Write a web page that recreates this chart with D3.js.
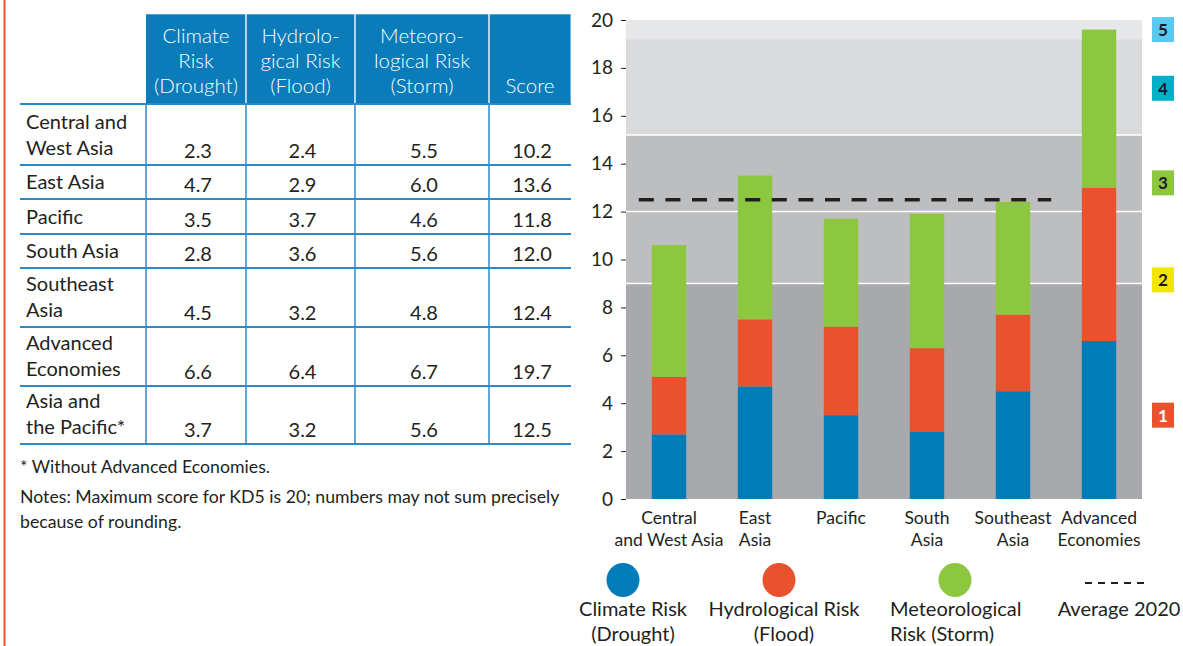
<!DOCTYPE html>
<html><head><meta charset="utf-8">
<script src="https://cdn.jsdelivr.net/npm/d3@7"></script>
<style>body{margin:0;background:#fff}svg{display:block}text{font-family:Lato,"Open Sans",sans-serif}</style>
</head><body><svg id="c" width="1183" height="646"></svg>
<script>
// ---------- table data ----------
const tableHeaders = [["Climate","Risk","(Drought)"],["Hydrolo-","gical Risk","(Flood)"],["Meteoro-","logical Risk","(Storm)"],["Score"]];
const tableRegions = [["Central and","West Asia"],["East Asia"],["Pacific"],["South Asia"],["Southeast","Asia"],["Advanced","Economies"],["Asia and","the Pacific*"]];
const tableDrought = ["2.3","4.7","3.5","2.8","4.5","6.6","3.7"];
const tableFlood   = ["2.4","2.9","3.7","3.6","3.2","6.4","3.2"];
const tableStorm   = ["5.5","6.0","4.6","5.6","4.8","6.7","5.6"];
const tableScore   = ["10.2","13.6","11.8","12.0","12.4","19.7","12.5"];
const footnotes = ["* Without Advanced Economies.","Notes: Maximum score for KD5 is 20; numbers may not sum precisely","because of rounding."];

// ---------- chart data ----------
const categories = ["Central and West Asia","East Asia","Pacific","South Asia","Southeast Asia","Advanced Economies"];
const categoryLabels = [["Central","and West Asia"],["East","Asia"],["Pacific"],["South","Asia"],["Southeast","Asia"],["Advanced","Economies"]];
const drought = [2.7,4.7,3.5,2.8,4.5,6.6];
const flood   = [2.4,2.8,3.7,3.5,3.2,6.4];
const storm   = [5.5,6.0,4.5,5.6,4.7,6.6];
const average2020 = 12.5;
const yTicks = [0,2,4,6,8,10,12,14,16,18,20];
const bandBreaks = [0,9,12,15.2,19.2,20];
const levelLabels = ["1","2","3","4","5"];
const levelAt = [3.5,9.15,13.2,17.15,19.6];
const seriesNames = [["Climate Risk","(Drought)"],["Hydrological Risk","(Flood)"],["Meteorological","Risk (Storm)"]];
const averageName = "Average 2020";

const svg = d3.select("#c");
const ink = "#231f20";
const blueLine = "#2a8ac6";
const colors = ["#007db8","#e9522c","#8dc63f"];

// red margin line
svg.append("line").attr("x1",4.5).attr("x2",4.5).attr("y1",0).attr("y2",646).attr("stroke","#e9522c").attr("stroke-width",2);

// ---------- table ----------
const colX = [146,246,355,489,571];
const tblLeft = 20, headTop = 14, headBottom = 104;
const rowBounds = [104,165,199,234,268,327,386,444];

svg.append("rect").attr("x",colX[0]).attr("y",headTop).attr("width",colX[4]-colX[0]).attr("height",headBottom-headTop).attr("fill","#0a7cba");
svg.append("line").attr("x1",colX[0]).attr("x2",colX[4]).attr("y1",headTop+0.5).attr("y2",headTop+0.5).attr("stroke","#4fa3d6").attr("stroke-width",1);
[1,2,3].forEach(i=>svg.append("line").attr("x1",colX[i]).attr("x2",colX[i]).attr("y1",headTop).attr("y2",headBottom).attr("stroke","#e8f2f8").attr("stroke-width",1.5));
svg.append("line").attr("x1",colX[4]-0.5).attr("x2",colX[4]-0.5).attr("y1",headTop).attr("y2",headBottom).attr("stroke","#6fb4de").attr("stroke-width",1);
tableHeaders.forEach((lines,i)=>{
  const cx=(colX[i]+colX[i+1])/2;
  lines.forEach((t,j)=>{
    svg.append("text").attr("x",cx).attr("y",93-(lines.length-1-j)*25).attr("text-anchor","middle")
      .attr("fill","#fff").attr("font-size",20.5).attr("font-weight",300).text(t);
  });
});
rowBounds.forEach(y=>svg.append("line").attr("x1",tblLeft).attr("x2",colX[4]).attr("y1",y).attr("y2",y).attr("stroke",blueLine).attr("stroke-width",2));
[0,1,2,3].forEach(i=>svg.append("line").attr("x1",colX[i]).attr("x2",colX[i]).attr("y1",headBottom).attr("y2",rowBounds[rowBounds.length-1]).attr("stroke",blueLine).attr("stroke-width",1.5));
const cols=[tableDrought,tableFlood,tableStorm,tableScore];
tableRegions.forEach((lines,r)=>{
  const bot=rowBounds[r+1];
  lines.forEach((t,j)=>{
    svg.append("text").attr("x",26).attr("y",bot-10-(lines.length-1-j)*26).attr("fill",ink).attr("font-size",20).text(t);
  });
  cols.forEach((col,c)=>{
    svg.append("text").attr("x",(colX[c]+colX[c+1])/2+2).attr("y",bot-7).attr("text-anchor","middle").attr("fill",ink).attr("font-size",20).text(col[r]);
  });
});
footnotes.forEach((t,i)=>{
  svg.append("text").attr("x",20).attr("y",[473,503,528][i]).attr("fill",ink).attr("font-size",17.7).text(t);
});

// ---------- chart ----------
const plotL=626, plotR=1142, plotT=20, plotB=499;
const y=d3.scaleLinear().domain([0,20]).range([plotB,plotT]);
const x=d3.scaleBand().domain(categories).range([plotL,plotR]).paddingInner(0.6).paddingOuter(0.3);
const bandColors=["#a7a9ac","#bcbec0","#bcbec0","#d9dadc","#e6e7e8"];
const g=svg.append("g");
bandBreaks.slice(0,-1).forEach((b,i)=>{
  g.append("rect").attr("x",plotL).attr("width",plotR-plotL).attr("y",y(bandBreaks[i+1])).attr("height",y(b)-y(bandBreaks[i+1])).attr("fill",bandColors[i]);
});
[9,12,15.2].forEach(v=>g.append("line").attr("x1",plotL).attr("x2",plotR).attr("y1",y(v)).attr("y2",y(v)).attr("stroke","#fff").attr("stroke-width",1.5));

// stacked bars
const rows=categories.map((c,i)=>({cat:c,drought:drought[i],flood:flood[i],storm:storm[i]}));
const stack=d3.stack().keys(["drought","flood","storm"])(rows);
stack.forEach((s,k)=>{
  g.selectAll(null).data(s).join("rect")
    .attr("x",d=>x(d.data.cat)).attr("width",x.bandwidth())
    .attr("y",d=>y(d[1])).attr("height",d=>y(d[0])-y(d[1])).attr("fill",colors[k]);
});

// average line
g.append("line").attr("x1",x(categories[0])-13).attr("x2",x(categories[4])+x.bandwidth()+21)
  .attr("y1",y(average2020)).attr("y2",y(average2020)).attr("stroke","#231f20").attr("stroke-width",3.5).attr("stroke-dasharray","15,11.6");

// y axis
const ax=svg.append("g").attr("transform",`translate(${plotL},0)`).call(d3.axisLeft(y).tickValues(yTicks).tickSize(5).tickPadding(8));
ax.select(".domain").remove();
ax.selectAll("line").attr("stroke",ink);
ax.selectAll("text").attr("fill",ink).attr("font-size",19).attr("font-family","Lato,sans-serif");

// x labels
categoryLabels.forEach((lines,i)=>{
  const cx=x(categories[i])+x.bandwidth()/2;
  lines.forEach((t,j)=>svg.append("text").attr("x",cx).attr("y",524+j*22).attr("text-anchor","middle").attr("fill",ink).attr("font-size",17.5).text(t));
});

// level badges
const badgeColors=["#e9522c","#f2e600","#8dc63f","#00b0c8","#5bc8ef"];
levelLabels.forEach((l,i)=>{
  const cy=y(levelAt[i]);
  svg.append("rect").attr("x",1152).attr("y",cy-12.5).attr("width",22).attr("height",25).attr("fill",badgeColors[i]);
  svg.append("text").attr("x",1163).attr("y",cy+6.5).attr("text-anchor","middle").attr("font-size",17).attr("font-weight","bold")
    .attr("fill",i===0?"#fff":"#1a1a2a").text(l);
});

// legend
const legX=[623,779,955];
seriesNames.forEach((lines,i)=>{
  svg.append("ellipse").attr("cx",legX[i]).attr("cy",580).attr("rx",16.5).attr("ry",17).attr("fill",colors[i]);
  lines.forEach((t,j)=>{
    const tx=svg.append("text").attr("y",616+j*25).attr("fill",ink).attr("font-size",20).text(t);
    if(i===2) tx.attr("x",890); else tx.attr("x",legX[i]+(i===0?10:5)).attr("text-anchor","middle");
  });
});
svg.append("line").attr("x1",1085).attr("x2",1146).attr("y1",583).attr("y2",583).attr("stroke",ink).attr("stroke-width",2).attr("stroke-dasharray","7,6");
svg.append("text").attr("x",1119).attr("y",616).attr("text-anchor","middle").attr("fill",ink).attr("font-size",20).text(averageName);
</script></body></html>
